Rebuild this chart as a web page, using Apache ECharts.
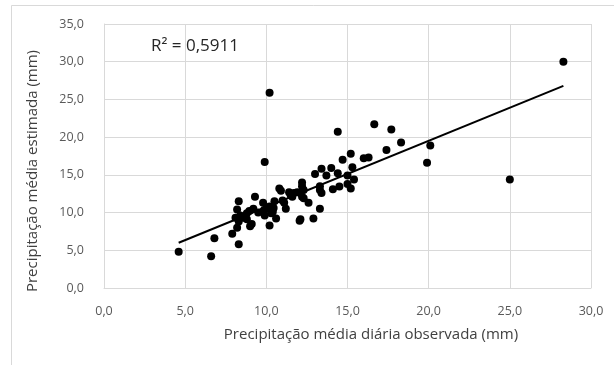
<!DOCTYPE html>
<html>
<head>
<meta charset="utf-8">
<script src="https://cdn.jsdelivr.net/npm/echarts@6/dist/echarts.min.js"></script>
<style>
html,body{margin:0;padding:0;background:#fff;}
#chart{width:614px;height:365px;}
</style>
</head>
<body>
<div id="chart"></div>
<script>
// Observed (x) vs estimated (y) mean daily precipitation, mm
const observed = [4.6,6.6,6.8,7.9,8.3,8.3,8.2,8.1,8.3,8.2,8.4,8.8,8.8,9.0,9.1,9.2,8.95,9.3,9.8,9.9,9.9,9.85,10.2,10.2,10.3,10.45,10.2,10.5,10.6,10.4,10.8,10.9,11.1,11.2,11.0,11.4,11.5,11.7,11.9,12.1,12.05,12.2,12.2,12.2,12.3,12.1,12.6,12.9,13.0,13.3,13.4,13.3,13.4,13.7,14.0,14.1,14.4,14.4,14.5,14.7,15.0,15.0,15.2,15.2,15.3,15.4,16.0,16.3,16.65,17.4,17.7,18.3,19.9,20.1,25.0,28.3,12.3,13.3,11.6,8.6,9.5,10.0];
const estimated = [4.8,4.2,6.6,7.2,5.8,11.5,10.4,9.3,8.8,8.0,9.6,9.9,9.1,8.2,8.5,10.5,10.2,12.1,11.3,16.7,9.6,10.3,25.9,8.3,9.9,10.6,10.8,11.5,9.2,10.1,13.2,12.9,11.3,10.5,11.6,12.7,12.3,12.6,12.7,9.1,8.9,14.0,13.5,12.1,11.9,12.6,11.3,9.2,15.1,13.5,12.6,10.5,15.8,14.9,15.9,13.1,20.7,15.2,13.45,17.0,14.9,13.8,17.8,13.2,16.0,14.4,17.2,17.3,21.7,18.3,21.0,19.3,16.6,18.9,14.4,30.0,13.0,13.0,12.1,9.3,10.0,10.5];
// Linear trendline end points
const trendX = [4.6, 28.3];
const trendY = [6.0, 26.8];
const r2Label = 'R² = 0,5911';
const xTitle = 'Precipitação média diária observada (mm)';
const yTitle = 'Precipitação média estimada (mm)';

const points = observed.map((x, i) => [x, estimated[i]]);
const trend = trendX.map((x, i) => [x, trendY[i]]);
const fmt = v => v.toFixed(1).replace('.', ',');
const FONT = 'Open Sans';

const chart = echarts.init(document.getElementById('chart'), null, {renderer: 'canvas'});
chart.setOption({
  animation: false,
  backgroundColor: '#fff',
  grid: {left: 104, right: 23, top: 24, bottom: 77, containLabel: false},
  xAxis: {
    type: 'value', min: 0, max: 30, interval: 5,
    name: xTitle, nameLocation: 'middle', nameGap: 39,
    nameTextStyle: {fontFamily: FONT, fontSize: 15, color: '#404040', padding: [0, 0, 0, 47]},
    axisLine: {show: true, lineStyle: {color: '#d9d9d9', width: 1}},
    axisTick: {show: false},
    axisLabel: {formatter: fmt, fontFamily: FONT, fontSize: 12.5, color: '#595959', margin: 17},
    splitLine: {show: true, lineStyle: {color: '#d9d9d9', width: 1}}
  },
  yAxis: {
    type: 'value', min: 0, max: 35, interval: 5,
    name: yTitle, nameLocation: 'middle', nameGap: 64, nameRotate: 90,
    nameTextStyle: {fontFamily: FONT, fontSize: 15, color: '#404040', padding: [0, 30, 0, 0]},
    axisLine: {show: true, lineStyle: {color: '#d9d9d9', width: 1}},
    axisTick: {show: false},
    axisLabel: {formatter: fmt, fontFamily: FONT, fontSize: 12.5, color: '#595959', margin: 20},
    splitLine: {show: true, lineStyle: {color: '#d9d9d9', width: 1}}
  },
  graphic: [
    {type: 'rect', silent: true, z: -10,
     shape: {x: 11.5, y: 5.5, width: 800, height: 600},
     style: {fill: 'none', stroke: '#d9d9d9', lineWidth: 1}},
    {type: 'text', left: 151, top: 38,
     style: {text: r2Label, font: '17px ' + FONT, fill: '#262626'}}
  ],
  series: [
    {type: 'scatter', data: points, symbol: 'circle', symbolSize: 8,
     itemStyle: {color: '#000', opacity: 1}, z: 3},
    {type: 'line', data: trend, symbol: 'none', lineStyle: {color: '#000', width: 2},
     z: 4, silent: true}
  ]
});
</script>
</body>
</html>
